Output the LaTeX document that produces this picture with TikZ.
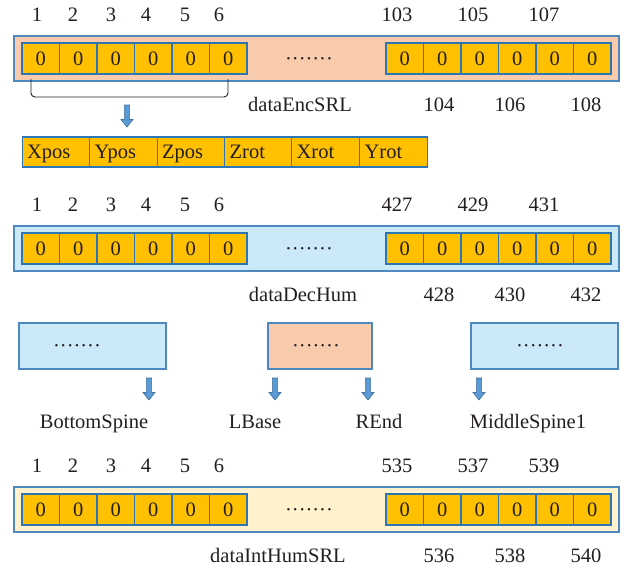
\documentclass[tikz,border=0pt]{standalone}
\usepackage{fontspec}
\setmainfont{Liberation Serif}
\definecolor{cellfill}{HTML}{FFC000}
\definecolor{cellborder}{HTML}{2E75B6}
\definecolor{outerborder}{HTML}{4F87BF}
\definecolor{peach}{HTML}{F8CBAD}
\definecolor{lightblue}{HTML}{CCE9F9}
\definecolor{lightyellow}{HTML}{FFF2CC}
\definecolor{arrowfill}{HTML}{5B9BD5}
\definecolor{arrowborder}{HTML}{41719C}
\definecolor{txt}{HTML}{231F20}
\tikzset{
  lbl/.style={inner sep=0pt, text=txt, text height=13.5pt, text depth=0pt,
    font=\fontsize{20.5}{24}\selectfont},
  cell/.style={lbl, draw=cellborder, fill=cellfill, line width=1.1pt,
    minimum width=37.5pt, minimum height=31pt},
  fieldcell/.style={lbl, draw=cellborder, fill=cellfill, line width=1.1pt,
    minimum height=30pt, text width=57.67pt, align=left, inner xsep=5pt},
  outerbox/.style={draw=outerborder, line width=1.4pt, inner sep=0pt},
  dnarrow/.pic={
    \filldraw[draw=arrowborder, fill=arrowfill, line width=0.6pt]
      (-2.6,-11) -- (2.6,-11) -- (2.6,3.5) -- (6,3.5) -- (0,11) -- (-6,3.5) -- (-2.6,3.5) -- cycle;
  },
}
\begin{document}
\begin{tikzpicture}[x=1pt,y=-1pt]
\useasboundingbox (0,0) rectangle (632,568);

\foreach \n/\dy/\col/\a/\b/\c/\d/\e/\f/\cap/\cx in {
  r1/0/peach/103/105/107/104/106/108/dataEncSRL/300,
  r2/190/lightblue/427/429/431/428/430/432/dataDecHum/303,
  r4/451/lightyellow/535/537/539/536/538/540/dataIntHumSRL/278}{
  \node[outerbox, fill=\col, minimum width=605pt, minimum height=45pt] (\n box) at (316.5,{58.5+\dy}) {};
  \foreach \k in {1,...,6}{
    \node[cell] (\n L\k) at ({40.75+37.5*(\k-1)},{58.5+\dy}) {0};
    \node[cell] (\n R\k) at ({404.75+37.5*(\k-1)},{58.5+\dy}) {0};
  }
  \foreach \k/\x in {1/37,2/73,3/111,4/146,5/185,6/219}
    \node[lbl] (\n t\k) at (\x,{15+\dy}) {\k};
  \node[lbl] (\n ta) at (397,{15+\dy}) {\a};
  \node[lbl] (\n tb) at (473,{15+\dy}) {\b};
  \node[lbl] (\n tc) at (544,{15+\dy}) {\c};
  \node[lbl] (\n bd) at (439,{105+\dy}) {\d};
  \node[lbl] (\n be) at (510,{105+\dy}) {\e};
  \node[lbl] (\n bf) at (586,{105+\dy}) {\f};
  \node[lbl] (\n cap) at (\cx,{105+\dy}) {\cap};
  \node[lbl] (\n dots) at (309,{58.5+\dy}) {·······};
}

% bracket under the first six cells
\coordinate (brA) at (31,79);
\coordinate (brB) at (228,79);
\draw[txt, line width=0.9pt, rounded corners=4pt] (brA) -- (31,97) -- (228,97) -- (brB);
\pic (a0) at (127,116) {dnarrow};

% field row
\foreach \k/\x/\t in {1/56/Xpos,2/123.5/Ypos,3/191/Zpos,4/258.5/Zrot,5/325.5/Xrot,6/393.5/Yrot}
  \node[fieldcell] (f\k) at (\x,152) {\t};

% middle row of boxes
\node[outerbox, fill=lightblue, minimum width=147pt, minimum height=46pt] (bx1) at (92.5,346) {};
\node[outerbox, fill=peach, minimum width=104pt, minimum height=46pt] (bx2) at (320,346) {};
\node[outerbox, fill=lightblue, minimum width=147pt, minimum height=46pt] (bx3) at (544.5,346) {};
\node[lbl] (d1) at (77,346) {·······};
\node[lbl] (d2) at (316,346) {·······};
\node[lbl] (d3) at (540,346) {·······};

\pic (a1) at (149,389) {dnarrow};
\pic (a2) at (275,389) {dnarrow};
\pic (a3) at (368,389) {dnarrow};
\pic (a4) at (479,389) {dnarrow};

\node[lbl] (l1) at (94,421.5) {BottomSpine};
\node[lbl] (l2) at (255,421.5) {LBase};
\node[lbl] (l3) at (379,421.5) {REnd};
\node[lbl] (l4) at (528,421.5) {MiddleSpine1};
\end{tikzpicture}
\end{document}
